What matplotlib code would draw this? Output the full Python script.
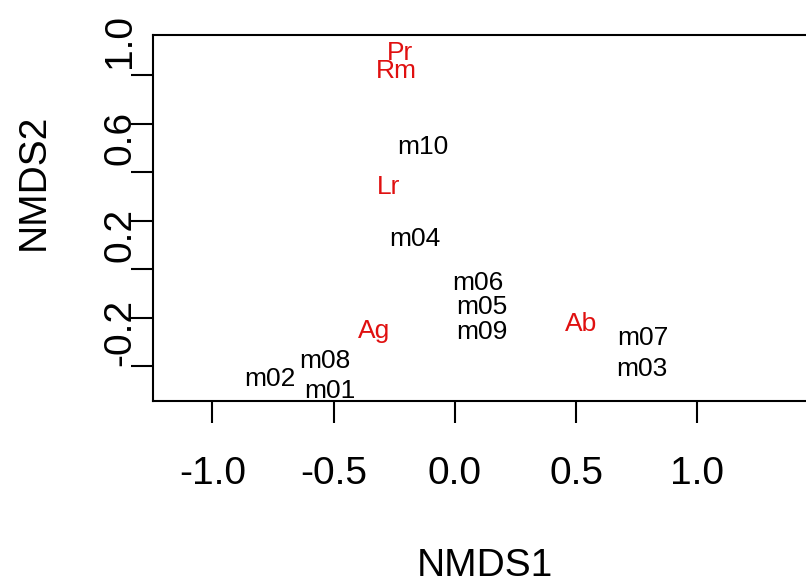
import matplotlib
matplotlib.use('Agg')
import matplotlib.pyplot as plt
import matplotlib.transforms as mtransforms

plt.rcParams['font.family'] = ['Liberation Sans', 'DejaVu Sans']

# NMDS scores
sites = ['m01', 'm02', 'm03', 'm04', 'm05', 'm06', 'm07', 'm08', 'm09', 'm10']
site_x = [-0.515, -0.763, 0.771, -0.165, 0.111, 0.095, 0.775, -0.536, 0.111, -0.132]
site_y = [-0.303, -0.254, -0.212, 0.324, 0.043, 0.142, -0.085, -0.179, -0.060, 0.703]

species = ['Ab', 'Ag', 'Lr', 'Pr', 'Rm']
sp_x = [0.520, -0.334, -0.272, -0.227, -0.243]
sp_y = [-0.027, -0.056, 0.538, 1.091, 1.016]

xticks = [-1.0, -0.5, 0.0, 0.5, 1.0]
xtick_labels = ['-1.0', '-0.5', '0.0', '0.5', '1.0']
yticks = [1.0, 0.8, 0.6, 0.4, 0.2, 0.0, -0.2]
ytick_labels = ['1.0', '', '0.6', '', '0.2', '', '-0.2']

fig = plt.figure(figsize=(8.06, 5.85), dpi=100)
# right edge of the box lies just outside the picture
ax = fig.add_axes([153/806, 184/585, 664/806, 366/585])
ax.set_xlim(-1.245, 1.493)
ax.set_ylim(-0.344, 1.165)

for lab, x, y in zip(sites, site_x, site_y):
    ax.text(x, y, lab, ha='center', va='center', fontsize=19, color='black')
for lab, x, y in zip(species, sp_x, sp_y):
    ax.text(x, y, lab, ha='center', va='center', fontsize=19, color='#e01010')

for s in ax.spines.values():
    s.set_linewidth(1.5)

ax.set_xticks(xticks)
ax.set_xticklabels(xtick_labels)
ax.set_yticks(yticks)
ax.set_yticklabels(ytick_labels)
ax.tick_params(axis='both', direction='out', length=15.5, width=1.5, labelsize=28)
ax.tick_params(axis='x', pad=24)
ax.tick_params(axis='y', pad=-5)

# y-axis texts sit a bit higher than their ticks in the original
shift = mtransforms.ScaledTranslation(0, 34/100, fig.dpi_scale_trans)
for t in ax.get_yticklabels():
    t.set_rotation(90)
    t.set_va('center')
    t.set_ha('right')
    t.set_transform(t.get_transform() + shift)

ax.set_xlabel('NMDS1', fontsize=28, va='center')
ax.xaxis.set_label_coords(0.5, -0.451)
ax.set_ylabel('NMDS2', fontsize=28, va='center', ha='center')
ax.yaxis.set_label_coords(-0.18, 0.598)

fig.savefig('out.png', dpi=100)
